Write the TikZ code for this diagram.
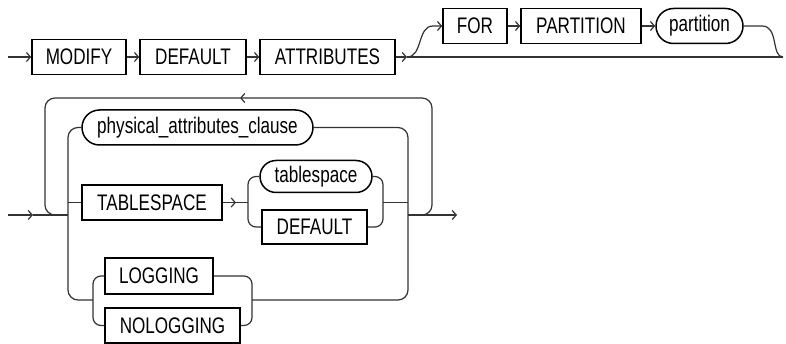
\documentclass[tikz,border=0pt]{standalone}
\usepackage{fontspec}
\setmainfont{Liberation Sans}[FakeStretch=0.76]
\usepackage{tikz}
\usetikzlibrary{positioning}
\usetikzlibrary{arrows.meta}
\usetikzlibrary{shapes.misc}

\begin{document}
\begin{tikzpicture}[x=1pt, y=-1pt]
	\tikzset{
		kw/.style={rectangle, draw, line width=1.5pt, minimum height=35pt, inner sep=0pt, font=\fontsize{22.5}{25}\selectfont},
		nt/.style={rounded rectangle, draw, line width=1.5pt, minimum height=35pt, inner sep=0pt, font=\fontsize{22.5}{25}\selectfont},
		rail/.style={draw=black!80, line width=1.2pt},
		go/.style={rail, -{Straight Barb[length=4pt, width=9pt]}}
	}
	\useasboundingbox (0,0) rectangle (786,344);

	% Row 1: MODIFY DEFAULT ATTRIBUTES [FOR PARTITION partition]
	\node[kw, minimum width=94pt] (modify) at (79,57) {MODIFY};
	\node[kw, minimum width=106pt] (dflt) at (193,57) {DEFAULT};
	\node[kw, minimum width=135pt] (attrs) at (327.5,57) {ATTRIBUTES};
	\node[kw, minimum width=64pt] (for) at (475,26) {FOR};
	\node[kw, minimum width=120pt] (partkw) at (581,26) {PARTITION};
	\node[nt, minimum width=87pt] (partnt) at (699.5,26) {partition};

	\coordinate (start1) at (8,57);
	\coordinate (split1) at (407,57);
	\coordinate (join1) at (783,57);

	\draw[go] (start1) -- (modify);
	\draw[go] (modify) -- (dflt);
	\draw[go] (dflt) -- (attrs);
	\draw[go] (attrs) -- (split1);
	\draw[rail] (split1) -- (join1);
	\draw[go] (split1) .. controls (423,57) and (417,26) .. (433,26) -- (for);
	\draw[go] (for) -- (partkw);
	\draw[go] (partkw) -- (partnt);
	\draw[rail] (partnt) -- (762,26) .. controls (779,26) and (771,57) .. (join1);

	% Row 2: repeated choice of clauses
	\node[nt, minimum width=231pt] (phys) at (197.5,127.5) {physical\_attributes\_clause};
	\node[kw, minimum width=140pt] (tskw) at (152,202.5) {TABLESPACE};
	\node[nt, minimum width=112pt, minimum height=32pt] (tsnt) at (316,176.5) {tablespace};
	\node[kw, minimum width=105pt, minimum height=34pt] (dflt2) at (314.5,227) {DEFAULT};
	\node[kw, minimum width=108pt, minimum height=36pt] (log) at (159,276) {LOGGING};
	\node[kw, minimum width=135pt] (nolog) at (172.5,325.5) {NOLOGGING};

	\coordinate (start2) at (8,215);
	\coordinate (entry2) at (33,215);
	\coordinate (left2) at (68,215);
	\coordinate (right2) at (408,215);
	\coordinate (exit2) at (457,215);
	\coordinate (back) at (240,98);
	\coordinate (tsarrow) at (236,202.5);
	\coordinate (tsleft) at (248,202.5);

	\draw[go] (start2) -- (entry2);
	\draw[rail] (entry2) -- (left2);
	\draw[go] (right2) -- (exit2);

	% loop back
	\draw[go, rounded corners=10pt] (418,215) -| (432,98) -- (back);
	\draw[rail, rounded corners=10pt] (back) -| (45,215) -- (58,215);

	% outer choice
	\draw[rail, rounded corners=10pt] (phys.west) -| (68,300) -- (93,300);
	\draw[rail, rounded corners=10pt] (phys.east) -| (408,300) -- (252,300);
	\draw[rail] (68,202.5) -- (tskw.west);
	\draw[go] (tskw.east) -- (tsarrow);
	\draw[rail] (tsarrow) -- (tsleft);
	\draw[rail] (383,202.5) -- (408,202.5);

	% tablespace or DEFAULT
	\draw[rail, rounded corners=8pt] (tsnt.west) -| (248,227) -- (dflt2.west);
	\draw[rail, rounded corners=8pt] (tsnt.east) -| (383,227) -- (dflt2.east);

	% LOGGING or NOLOGGING
	\draw[rail, rounded corners=8pt] (log.west) -| (93,325.5) -- (nolog.west);
	\draw[rail, rounded corners=8pt] (log.east) -| (252,325.5) -- (nolog.east);
\end{tikzpicture}
\end{document}
